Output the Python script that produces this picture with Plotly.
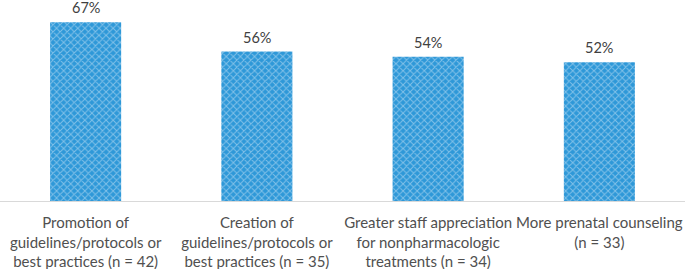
import plotly.graph_objects as go

categories = [
    "Promotion of<br>guidelines/protocols or<br>best practices (n = 42)",
    "Creation of<br>guidelines/protocols or<br>best practices (n = 35)",
    "Greater staff appreciation<br>for nonpharmacologic<br>treatments (n = 34)",
    "More prenatal counseling<br>(n = 33)",
]
values = [67, 56, 54, 52]
labels = [f"{v}%" for v in values]

fig = go.Figure()
fig.add_trace(go.Bar(
    x=categories,
    y=values,
    marker=dict(
        color="#2E98D8",
        line=dict(width=0),
        pattern=dict(shape="x", fgcolor="#D5E9F7", bgcolor="#2E98D8", size=5, solidity=0.35),
    ),
    hoverinfo="skip",
))

for c, v, t in zip(categories, values, labels):
    fig.add_annotation(x=c, y=v, text=t, showarrow=False, yanchor="bottom", yshift=4,
                       font=dict(family="Lato, sans-serif", size=14.5, color="#404040"))

fig.update_layout(
    width=685, height=269,
    margin=dict(l=0, r=0, t=0, b=68),
    plot_bgcolor="white", paper_bgcolor="white",
    bargap=0.585,
    showlegend=False,
    font=dict(family="Lato, sans-serif", size=15, color="#404040"),
)
fig.update_xaxes(showline=True, linecolor="#D9D9D9", linewidth=1, ticks="", automargin=False,
                 ticklabelstandoff=8, tickfont=dict(size=15, color="#505050"))
fig.update_yaxes(range=[0, 75.3], visible=False, showgrid=False, zeroline=False, automargin=False)

fig.write_html("out.html", config={"displayModeBar": False},
               post_script="document.body.style.margin='0';")
